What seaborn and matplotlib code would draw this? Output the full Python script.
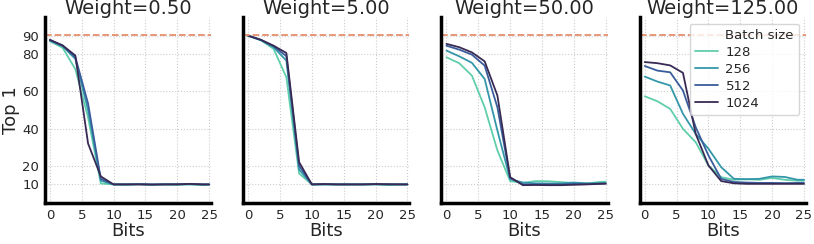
import numpy as np
import pandas as pd
import matplotlib
matplotlib.use("Agg")
import matplotlib.pyplot as plt
from matplotlib.lines import Line2D
import seaborn as sns

bits = [0, 2, 4, 6, 8, 10, 12, 14, 16, 18, 20, 22, 24, 25]
weights = ["0.50", "5.00", "50.00", "125.00"]
batch_sizes = [128, 256, 512, 1024]
baseline = 90.5

# Top-1 accuracy, one list per (weight, batch size)
w050_128 = [87.0, 83.5, 72.0, 46.0, 10.5, 10.0, 9.8, 10.0, 9.8, 10.0, 9.8, 10.0, 9.7, 9.8]
w050_256 = [87.3, 84.3, 77.5, 50.0, 12.0, 10.0, 10.0, 10.2, 9.9, 10.1, 10.0, 10.1, 9.9, 10.0]
w050_512 = [87.6, 84.6, 78.5, 53.5, 13.0, 10.0, 10.0, 10.1, 10.0, 10.0, 10.1, 10.2, 10.0, 10.0]
w050_1024 = [87.8, 84.8, 79.3, 32.0, 14.3, 10.0, 10.0, 10.0, 9.9, 10.0, 10.0, 10.3, 10.0, 10.0]

w5_128 = [90.0, 87.5, 82.9, 67.6, 15.9, 10.0, 10.0, 10.0, 10.0, 10.0, 10.0, 9.6, 10.0, 10.0]
w5_256 = [90.0, 87.6, 83.8, 76.6, 18.0, 10.0, 10.0, 10.0, 10.0, 10.0, 10.1, 10.0, 10.0, 10.0]
w5_512 = [90.0, 87.7, 84.3, 79.0, 20.0, 10.0, 10.1, 10.0, 10.0, 10.0, 10.1, 10.0, 10.0, 10.0]
w5_1024 = [90.0, 87.8, 84.6, 80.7, 22.0, 10.0, 10.2, 10.0, 10.0, 10.0, 10.2, 10.1, 10.0, 10.0]

w50_128 = [78.4, 75.2, 68.5, 51.5, 28.3, 11.8, 10.8, 11.8, 11.7, 11.2, 10.8, 10.5, 11.3, 11.5]
w50_256 = [82.0, 78.9, 75.4, 66.7, 39.0, 12.8, 11.0, 10.6, 10.5, 10.5, 11.0, 10.6, 10.6, 10.7]
w50_512 = [84.6, 82.5, 79.8, 73.9, 51.5, 13.5, 10.0, 10.0, 10.0, 10.0, 10.3, 10.2, 10.4, 10.5]
w50_1024 = [85.6, 83.8, 81.0, 76.2, 57.8, 13.9, 9.6, 9.7, 9.6, 9.6, 9.8, 10.0, 10.3, 10.4]

w125_128 = [57.4, 54.7, 50.6, 39.9, 32.7, 20.2, 13.9, 12.5, 12.8, 12.5, 13.5, 12.5, 12.0, 12.0]
w125_256 = [68.0, 65.3, 63.2, 48.0, 37.2, 29.2, 19.3, 13.0, 12.8, 13.0, 14.3, 14.0, 12.5, 12.5]
w125_512 = [73.7, 71.2, 70.3, 60.5, 40.8, 25.6, 13.0, 11.3, 11.0, 10.8, 10.8, 10.7, 10.8, 10.8]
w125_1024 = [75.8, 75.2, 74.0, 70.0, 37.2, 20.2, 11.8, 10.6, 10.3, 10.3, 10.3, 10.3, 10.3, 10.3]

series = {
    "0.50": [w050_128, w050_256, w050_512, w050_1024],
    "5.00": [w5_128, w5_256, w5_512, w5_1024],
    "50.00": [w50_128, w50_256, w50_512, w50_1024],
    "125.00": [w125_128, w125_256, w125_512, w125_1024],
}

rows = []
for w in weights:
    for bs, vals in zip(batch_sizes, series[w]):
        for b, v in zip(bits, vals):
            rows.append({"Weight": w, "Batch size": bs, "Bits": b, "Top 1": v})
df = pd.DataFrame(rows)

sns.set_style("whitegrid", {"grid.linestyle": ":", "grid.color": ".8",
                            "axes.edgecolor": "black"})
plt.rcParams["font.family"] = ["DejaVu Sans"]

palette = sns.color_palette("mako_r", 4)

fig, axes = plt.subplots(1, 4, figsize=(8.14, 2.44), dpi=100, sharey=True)
fig.subplots_adjust(left=0.055, right=0.99, bottom=0.168, top=0.93, wspace=0.193)

for i, (ax, w) in enumerate(zip(axes, weights)):
    sub = df[df["Weight"] == w]
    sns.lineplot(data=sub, x="Bits", y="Top 1", hue="Batch size",
                 palette=palette, linewidth=1.3, ax=ax, legend=(i == 3))
    ax.axhline(baseline, color="#e5906c", linestyle="--", linewidth=1.3)
    ax.set_title(f"Weight={w}", fontsize=14, pad=2)
    ax.set_xlim(-0.8, 25.3)
    ax.set_ylim(0, 100)
    ax.set_xticks([0, 5, 10, 15, 20, 25])
    ax.set_yticks([10, 20, 40, 60, 80, 90])
    ax.tick_params(axis="both", labelsize=9.5, length=0, pad=4)
    ax.set_xlabel("Bits", fontsize=13, labelpad=0)
    ax.set_ylabel("Top 1" if i == 0 else "", fontsize=13, labelpad=2)
    ax.grid(True, linestyle=":", color=".8")
    sns.despine(ax=ax)
    ax.spines["left"].set_linewidth(2.5)
    ax.spines["bottom"].set_linewidth(2.5)
    ax.spines["left"].set_color("black")
    ax.spines["bottom"].set_color("black")

# legend with the hue title as a blank first entry
handles, labels = axes[3].get_legend_handles_labels()
blank = Line2D([], [], linestyle="none")
axes[3].legend([blank] + handles, ["Batch size"] + labels, loc="upper right",
               fontsize=9.5, labelspacing=0.3, framealpha=0.8,
               handlelength=1.7, borderpad=0.4, handletextpad=0.6)

fig.savefig("out.png", dpi=100)
